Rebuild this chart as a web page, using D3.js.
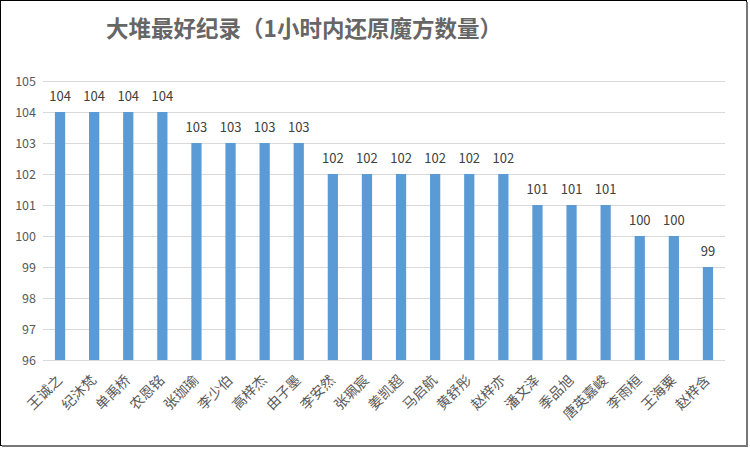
<!DOCTYPE html>
<html>
<head>
<meta charset="utf-8">
<script src="https://cdn.jsdelivr.net/npm/d3@7"></script>
<style>
  body { margin: 0; background: #fff; }
  .chart text { font-family: "Noto Sans CJK SC", "Noto Sans", sans-serif; }
</style>
</head>
<body>
<div class="chart"></div>
<script>
const names = ['王诚之', '纪沐梵', '单禹桥', '农恩铭', '张珈瑜', '李少伯', '高梓杰', '由子墨', '李安然', '张珮宸',
  '姜凯超', '马启航', '黄舒彤', '赵梓亦', '潘文泽', '季品旭', '唐英嘉峻', '李雨桓', '王海粟', '赵梓含'];
const counts = [104, 104, 104, 104, 103, 103, 103, 103, 102, 102, 102, 102, 102, 102, 101, 101, 101, 100, 100, 99];
const yTicks = [96, 97, 98, 99, 100, 101, 102, 103, 104, 105];
const titleText = '大堆最好纪录（1小时内还原魔方数量）';

const width = 750;
const height = 449;
const margin = { top: 81, right: 25, bottom: 89, left: 43 };
const graphWidth = width - margin.left - margin.right;
const graphHeight = height - margin.top - margin.bottom;

const svg = d3.select('.chart').append('svg')
  .attr('width', width)
  .attr('height', height);

// frame
svg.append('rect')
  .attr('x', 0.5).attr('y', 0.5)
  .attr('width', width - 4).attr('height', height - 4)
  .attr('fill', '#fff')
  .attr('stroke', '#000')
  .attr('stroke-width', 1);
svg.append('line').attr('x1', width - 3).attr('x2', width - 3).attr('y1', 2).attr('y2', height - 2)
  .attr('stroke', '#777').attr('stroke-width', 2);
svg.append('line').attr('x1', 2).attr('x2', width - 2).attr('y1', height - 3).attr('y2', height - 3)
  .attr('stroke', '#777').attr('stroke-width', 2);

svg.append('text')
  .attr('x', 304)
  .attr('y', 37)
  .attr('text-anchor', 'middle')
  .style('font-size', '22.5px')
  .style('font-weight', '600')
  .style('fill', '#666')
  .text(titleText);

const graph = svg.append('g')
  .attr('transform', `translate(${margin.left}, ${margin.top})`);

const xScale = d3.scaleBand().domain(names).range([0, graphWidth]).paddingInner(0.7).paddingOuter(0.35);
const yScale = d3.scaleLinear().domain([96, 105]).range([graphHeight, 0]);

// gridlines
graph.append('g')
  .selectAll('line')
  .data(yTicks)
  .join('line')
  .attr('x1', 0)
  .attr('x2', graphWidth)
  .attr('y1', (d) => Math.round(yScale(d)) + 0.5)
  .attr('y2', (d) => Math.round(yScale(d)) + 0.5)
  .attr('stroke', '#d9d9d9')
  .attr('stroke-width', 1);

const yAxis = d3.axisLeft(yScale).tickValues(yTicks).tickSize(0).tickPadding(7);
const yAxisGroup = graph.append('g').call(yAxis);
yAxisGroup.select('.domain').remove();
yAxisGroup.selectAll('text')
  .style('font-size', '12.5px')
  .style('fill', '#595959');

graph.selectAll('rect.bar')
  .data(counts)
  .join('rect')
  .attr('class', 'bar')
  .attr('x', (d, i) => xScale(names[i]))
  .attr('y', (d) => yScale(d))
  .attr('width', xScale.bandwidth())
  .attr('height', (d) => graphHeight - yScale(d))
  .attr('fill', '#5b9bd5');

graph.selectAll('text.value')
  .data(counts)
  .join('text')
  .attr('class', 'value')
  .attr('x', (d, i) => xScale(names[i]) + xScale.bandwidth() / 2)
  .attr('y', (d) => yScale(d) - 11)
  .attr('text-anchor', 'middle')
  .style('font-size', '13px')
  .style('fill', '#404040')
  .text((d) => d);

const xAxis = d3.axisBottom(xScale).tickSize(0).tickPadding(0);
const xAxisGroup = graph.append('g')
  .attr('transform', `translate(0, ${graphHeight})`)
  .call(xAxis);
xAxisGroup.select('.domain').remove();
xAxisGroup.selectAll('text')
  .attr('text-anchor', 'end')
  .attr('dy', null)
  .attr('y', 0)
  .attr('transform', 'translate(3, 21) rotate(-45)')
  .style('font-size', '14px')
  .style('fill', '#595959');
</script>
</body>
</html>
